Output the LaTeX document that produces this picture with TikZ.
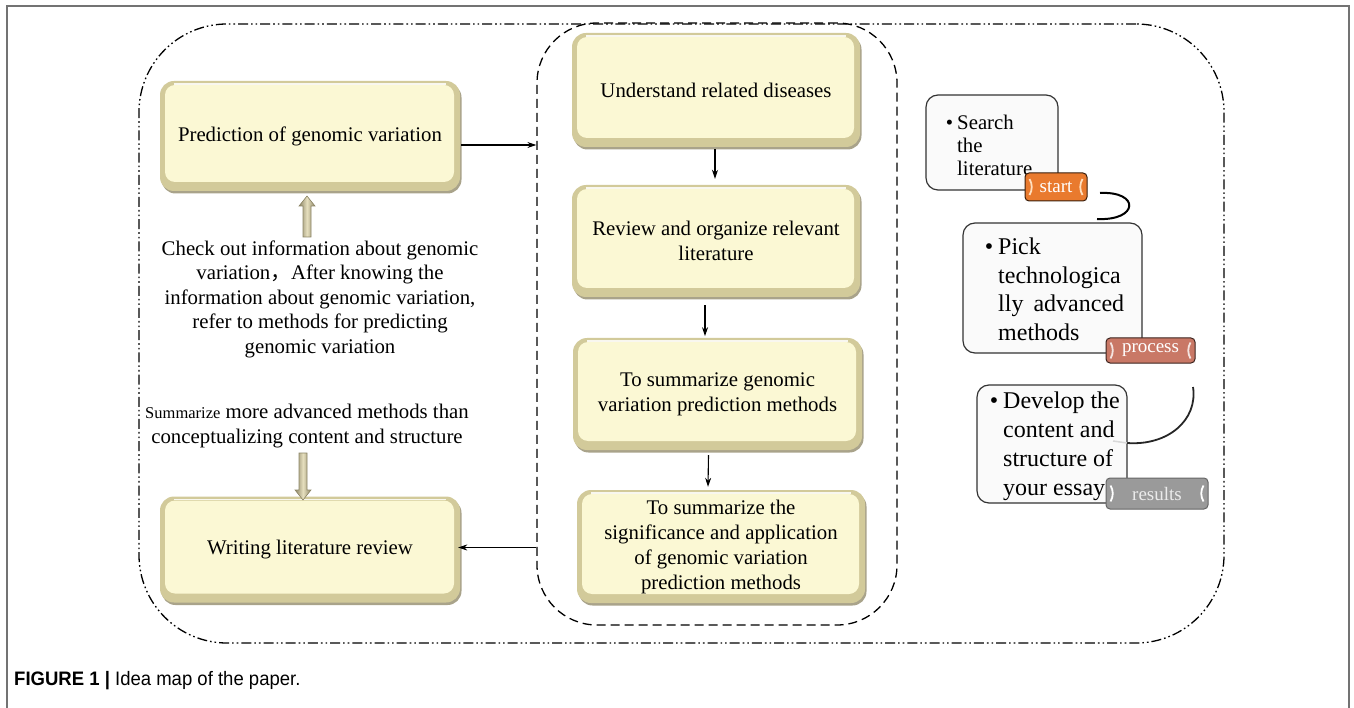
\documentclass[tikz,border=0pt]{standalone}
\usepackage{fontspec}
\setmainfont{Liberation Serif}
\newfontfamily\capfont{Liberation Sans}
\newfontfamily\cjkfont{Noto Sans CJK SC}
\usetikzlibrary{arrows.meta,calc,shadows}
\definecolor{ycream}{HTML}{FBF8D4}
\definecolor{yedge}{HTML}{D2CA9A}
\definecolor{yshadow}{HTML}{9A9376}
\definecolor{barL}{HTML}{8C8566}
\definecolor{barM}{HTML}{E6DFBE}
\definecolor{tagorange}{HTML}{E97A2E}
\definecolor{tagsalmon}{HTML}{C97866}
\definecolor{taggray}{HTML}{9A9A9A}
\tikzset{
  ybox/.style={rounded corners=14pt, fill=yedge, align=center,
    font=\fontsize{20.8}{25}\selectfont,
    drop shadow={shadow xshift=1.5pt, shadow yshift=-2.5pt, fill=yshadow, opacity=0.85},
    path picture={
      \fill[ycream, rounded corners=10pt] ([shift={(5pt,-4pt)}]path picture bounding box.north west) rectangle ([shift={(-6pt,9pt)}]path picture bounding box.south east);
      \draw[white, line width=1.6pt, opacity=0.85] ([shift={(14pt,-3pt)}]path picture bounding box.north west) -- ([shift={(-14pt,-3pt)}]path picture bounding box.north east);
    }},
  arr/.style={-{Stealth[length=9pt,width=6pt]}, line width=1.1pt},
  outerframe/.style={draw, line width=1.3pt, rounded corners=88pt,
    dash pattern=on 10pt off 3pt on 1.6pt off 3pt on 1.6pt off 3pt},
  midframe/.style={draw, line width=1.3pt, rounded corners=60pt, dash pattern=on 9pt off 5pt},
  rbox/.style={draw=black!80, line width=1.2pt, fill=black!2, rounded corners=12pt},
  rtext/.style={anchor=north west, inner sep=0pt, align=left},
  tagbox/.style={rounded corners=4pt, line width=1pt, text=white, inner sep=0pt,
    font=\fontsize{19}{19}\selectfont},
  plaintext/.style={align=center, inner sep=0pt, font=\fontsize{20.8}{24.5}\selectfont},
  barrow/.style={left color=barL, right color=barL, middle color=barM, draw=barL, line width=0.6pt},
}
\begin{document}
\begin{tikzpicture}[x=1pt,y=-1pt]
\useasboundingbox (0,0) rectangle (1354,708);
% page border
\draw[black!55, line width=1.4pt] (7,708) -- (7,6) -- (1349,6) -- (1349,708);

% frames
\node[outerframe, minimum width=1085pt, minimum height=619pt] (outer) at (681.5,333.5) {};
\node[midframe, minimum width=360pt, minimum height=602pt] (mid) at (717,324) {};

% left column
\node[ybox, minimum width=300pt, minimum height=110pt] (pred) at (310,136) {Prediction of genomic variation};
\node[ybox, minimum width=300pt, minimum height=106pt] (writ) at (310,549.5) {Writing literature review};

\node[plaintext] (chk) at (320,299) {Check out information about genomic\\
variation{\cjkfont ，}After knowing the\\
information about genomic variation,\\
refer to methods for predicting\\
genomic variation};
\node[plaintext] (summ) at (307,426) {{\fontsize{16.5}{16.5}\selectfont Summarize} more advanced methods than\\
conceptualizing content and structure};

% block arrows
\shade[barrow] (307,196) -- (315,206) -- (311,206) -- (311,237) -- (303,237) -- (303,206) -- (299,206) -- cycle;
\shade[barrow] (303,500) -- (311,490) -- (307,490) -- (307,453) -- (299,453) -- (299,490) -- (295,490) -- cycle;

% middle column
\node[ybox, minimum width=288pt, minimum height=114pt] (und) at (716,90) {Understand related diseases};
\node[ybox, minimum width=288pt, minimum height=112pt] (rev) at (716,241) {Review and organize relevant\\literature};
\node[ybox, minimum width=289pt, minimum height=112pt] (sgm) at (717.5,394) {To summarize genomic\\variation prediction methods};
\node[ybox, minimum width=288pt, minimum height=113pt] (sig) at (721,546.5) {To summarize the\\significance and application\\of genomic variation\\prediction methods};

% connectors
\draw[arr] ($(und.south)+(-1,2)$) -- ($(rev.north)+(-1,-6)$);
\draw[arr] ($(rev.south)+(-11,8)$) -- ($(rev.south)+(-11,39)$);
\draw[arr] ($(sgm.south)+(-9,5)$) -- ($(sig.north)+(-13,-3)$);
\coordinate (pa) at ($(pred.east)+(1,9)$);
\draw[arr] (pa) -- (pa -| mid.west);
\coordinate (wa) at ($(writ.east)+(-2,-2)$);
\draw[arr] (wa -| mid.west) -- (wa);

% right column
\node[rbox, minimum width=132pt, minimum height=95pt] (b1) at (992,142.5) {};
\node[rtext, font=\fontsize{20.8}{23}\selectfont] (t1) at (957,115) {\llap{•\hspace{4pt}}Search\\the\\literature};
\node[rbox, minimum width=179pt, minimum height=130pt] (b2) at (1052.5,288) {};
\node[rtext, font=\fontsize{24}{28.5}\selectfont] (t2) at (998,238) {\llap{•\hspace{5pt}}Pick\\technologica\\lly\hspace{10pt}advanced\\methods};
\node[rbox, minimum width=150pt, minimum height=118pt] (b3) at (1052,444) {};
\node[rtext, font=\fontsize{24}{29}\selectfont] (t3) at (1003,392) {\llap{•\hspace{5pt}}Develop the\\content and\\structure of\\your essay};

% tags
\node[tagbox, fill=tagorange, draw=black!75!tagorange, minimum width=62pt, minimum height=28pt] (tg1) at (1056,187) {start};
\node[tagbox, fill=tagsalmon, draw=black!70!tagsalmon, minimum width=89pt, minimum height=25pt] (tg2) at (1150.5,350.5) {\raisebox{-2pt}{process}};
\node[tagbox, fill=taggray, draw=black!60, text=black!8, minimum width=102pt, minimum height=31pt] (tg3) at (1157,493.5) {results};
\foreach \t/\c in {tg1/orange!25, tg2/white!80!tagsalmon, tg3/white} {
  \draw[\c, line width=1.8pt] ($(\t.west)+(5,-8)$) .. controls ($(\t.west)+(8,-3)$) and ($(\t.west)+(8,3)$) .. ($(\t.west)+(5,8)$);
  \draw[\c, line width=1.8pt] ($(\t.east)+(-5,-8)$) .. controls ($(\t.east)+(-8,-3)$) and ($(\t.east)+(-8,3)$) .. ($(\t.east)+(-5,8)$);
}

% curved links
\coordinate (c1a) at (1100,193);
\coordinate (c1b) at (1097,219);
\draw[line width=2pt] (c1a) .. controls (1140,191) and (1139,221) .. (c1b);
\coordinate (c2a) at (1193,387);
\coordinate (c2b) at (1127,443);
\coordinate (c2c) at (1113,441);
\draw[line width=1.8pt, black!85] (c2a) .. controls (1198,420) and (1168,446) .. (c2b);
\draw[line width=1.5pt, black!15] (c2b) -- (c2c);

% caption
\node[anchor=west, inner sep=0pt, font=\capfont\fontsize{19.5}{19.5}\selectfont] (cap) at (14,681) {\scalebox{0.95}[1]{\textbf{FIGURE 1 |} Idea map of the paper.}};
\end{tikzpicture}
\end{document}
